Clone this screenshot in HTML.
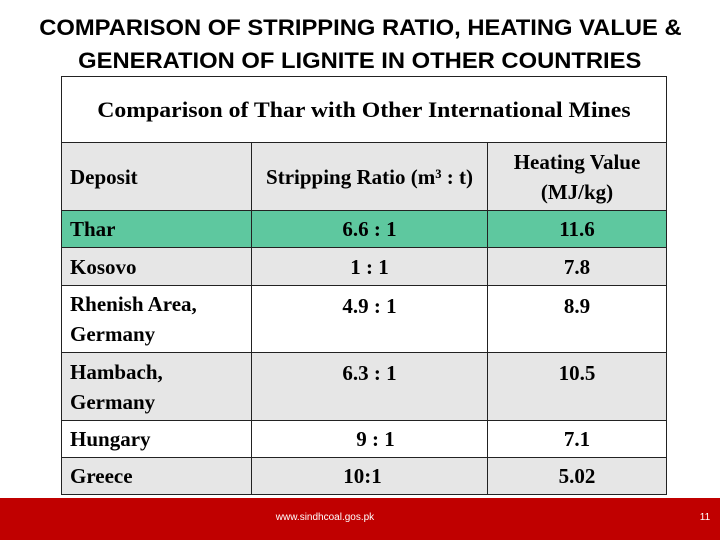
<!DOCTYPE html>
<html><head><meta charset="utf-8"><style>
body{margin:0;width:720px;height:540px;background:#fff;position:relative;overflow:hidden;font-family:"Liberation Serif",serif}
.t{position:absolute;left:0;width:720px;text-align:center;font-family:"Liberation Sans",sans-serif;font-weight:bold;font-size:22px;color:#000;white-space:nowrap}
.c{position:absolute;box-sizing:border-box;border:1px solid #222;font-family:"Liberation Serif",serif;font-weight:bold;font-size:21px;color:#000;display:flex;align-items:center;line-height:30px;white-space:nowrap}
.l{padding-left:8px}
.m{justify-content:center;text-align:center}
</style></head><body>
<div class="t" style="top:15px"><span style="display:inline-block;transform:scaleX(1.08)">COMPARISON OF STRIPPING RATIO, HEATING VALUE &amp;</span></div>
<div class="t" style="top:48px"><span style="display:inline-block;transform:scaleX(1.08)">GENERATION OF LIGNITE IN OTHER COUNTRIES</span></div>
<div>
<div class="c m" style="left:61px;top:76px;width:606px;height:67px;font-size:22px;background:#fff"><span style="display:inline-block;transform:scaleX(1.08)">Comparison of Thar with Other International Mines</span></div>
<div class="c l" style="left:61px;top:142px;width:191px;height:69px;background:#e6e6e6">Deposit</div>
<div class="c m" style="left:251px;top:142px;width:237px;height:69px;background:#e6e6e6">Stripping Ratio (m³ : t)</div>
<div class="c m" style="left:487px;top:142px;width:180px;height:69px;background:#e6e6e6">Heating Value<br>(MJ/kg)</div>

<div class="c l" style="left:61px;top:210px;width:191px;height:38px;background:#5ec89f">Thar</div>
<div class="c m" style="left:251px;top:210px;width:237px;height:38px;background:#5ec89f">6.6 : 1</div>
<div class="c m" style="left:487px;top:210px;width:180px;height:38px;background:#5ec89f">11.6</div>

<div class="c l" style="left:61px;top:247px;width:191px;height:39px;background:#e6e6e6">Kosovo</div>
<div class="c m" style="left:251px;top:247px;width:237px;height:39px;background:#e6e6e6">1 : 1</div>
<div class="c m" style="left:487px;top:247px;width:180px;height:39px;background:#e6e6e6">7.8</div>

<div class="c l" style="left:61px;top:285px;width:191px;height:68px;background:#fff">Rhenish Area,<br>Germany</div>
<div class="c m" style="left:251px;top:285px;width:237px;height:68px;background:#fff;align-items:flex-start;padding-top:5px">4.9 : 1</div>
<div class="c m" style="left:487px;top:285px;width:180px;height:68px;background:#fff;align-items:flex-start;padding-top:5px">8.9</div>

<div class="c l" style="left:61px;top:352px;width:191px;height:69px;background:#e6e6e6">Hambach,<br>Germany</div>
<div class="c m" style="left:251px;top:352px;width:237px;height:69px;background:#e6e6e6;align-items:flex-start;padding-top:5px">6.3 : 1</div>
<div class="c m" style="left:487px;top:352px;width:180px;height:69px;background:#e6e6e6;align-items:flex-start;padding-top:5px">10.5</div>

<div class="c l" style="left:61px;top:420px;width:191px;height:38px;background:#fff">Hungary</div>
<div class="c m" style="left:251px;top:420px;width:237px;height:38px;background:#fff;padding-left:12px">9 : 1</div>
<div class="c m" style="left:487px;top:420px;width:180px;height:38px;background:#fff">7.1</div>

<div class="c l" style="left:61px;top:457px;width:191px;height:38px;background:#e6e6e6">Greece</div>
<div class="c m" style="left:251px;top:457px;width:237px;height:38px;background:#e6e6e6;padding-right:14px">10:1</div>
<div class="c m" style="left:487px;top:457px;width:180px;height:38px;background:#e6e6e6">5.02</div>
</div>
<div style="position:absolute;left:0;top:498px;width:720px;height:42px;background:#c00000"></div>
<div style="position:absolute;left:225px;top:512px;width:200px;text-align:center;color:#fff;font-family:'Liberation Sans',sans-serif;font-size:10px">www.sindhcoal.gos.pk</div>
<div style="position:absolute;left:695px;top:512px;width:20px;text-align:center;color:#fff;font-family:'Liberation Sans',sans-serif;font-size:10px">11</div>
</body></html>
